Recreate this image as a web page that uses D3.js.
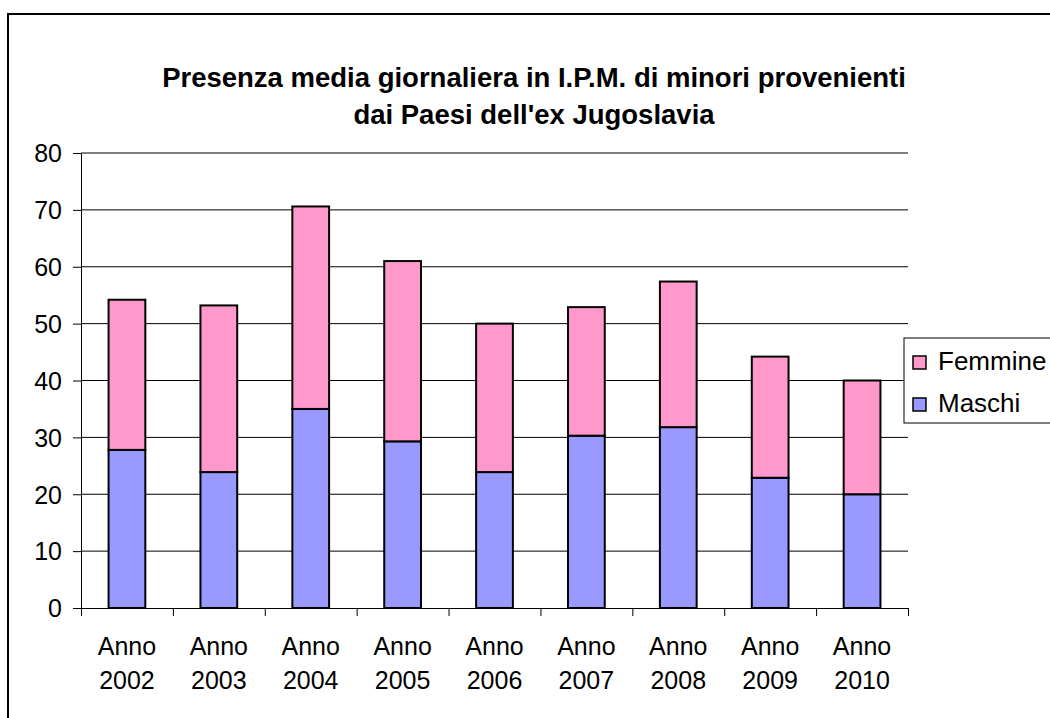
<!DOCTYPE html>
<html>
<head>
<meta charset="utf-8">
<script src="https://cdn.jsdelivr.net/npm/d3@7"></script>
<style>
  body { margin: 0; background: #fff; }
  text { font-family: "Liberation Sans", Arial, sans-serif; fill: #000; }
</style>
</head>
<body>
<script>
'use strict';

var years = ["2002", "2003", "2004", "2005", "2006", "2007", "2008", "2009", "2010"];
var maschi = [27.8, 23.9, 35.0, 29.3, 23.9, 30.3, 31.8, 22.9, 20.0];
var femmine = [26.4, 29.3, 35.6, 31.7, 26.1, 22.6, 25.6, 21.3, 20.0];
var yTicks = [0, 10, 20, 30, 40, 50, 60, 70, 80];
var titleLines = ["Presenza media giornaliera in I.P.M. di minori provenienti",
                  "dai Paesi dell'ex Jugoslavia"];
var seriesNames = ["Femmine", "Maschi"];

var _width = 1050;
var _height = 718;
var plot = {left: 81, right: 908, top: 153, bottom: 608};
var colors = {Maschi: "#9999ff", Femmine: "#ff99cc"};

var svg = d3.select(document.body).append("svg")
    .attr("width", _width)
    .attr("height", _height);

// chart border (runs off the right and bottom edges)
svg.append("rect")
    .attr("x", 8).attr("y", 14)
    .attr("width", 1100).attr("height", 800)
    .attr("fill", "none")
    .attr("stroke", "#000")
    .attr("stroke-width", 2);

// title
svg.append("g").selectAll("text")
    .data(titleLines)
  .enter().append("text")
    .attr("x", 534)
    .attr("y", function(d, i) { return 87 + i * 37; })
    .attr("text-anchor", "middle")
    .attr("font-size", "27.5px")
    .attr("font-weight", "bold")
    .text(function(d) { return d; });

var yScale = d3.scaleLinear().domain([0, 80]).range([plot.bottom, plot.top]);
var xBand = d3.scaleBand().domain(years)
    .range([plot.left, plot.right])
    .paddingInner(0.6).paddingOuter(0.3);
var xEdge = d3.scaleLinear().domain([0, years.length]).range([plot.left, plot.right]);

// gridlines
svg.append("g").selectAll("line")
    .data(yTicks.filter(function(t) { return t > 0; }))
  .enter().append("line")
    .attr("x1", plot.left).attr("x2", plot.right)
    .attr("y1", function(d) { return yScale(d); })
    .attr("y2", function(d) { return yScale(d); })
    .attr("stroke", "#000")
    .attr("stroke-width", 1);

// stacked bars
var rows = years.map(function(y, i) {
  return {year: y, Maschi: maschi[i], Femmine: femmine[i]};
});
var stacked = d3.stack().keys(["Maschi", "Femmine"])(rows);

svg.append("g").selectAll("g")
    .data(stacked)
  .enter().append("g")
    .attr("fill", function(s) { return colors[s.key]; })
  .selectAll("rect")
    .data(function(s) { return s; })
  .enter().append("rect")
    .attr("x", function(d) { return xBand(d.data.year); })
    .attr("width", xBand.bandwidth())
    .attr("y", function(d) { return yScale(d[1]); })
    .attr("height", function(d) { return yScale(d[0]) - yScale(d[1]); })
    .attr("stroke", "#000")
    .attr("stroke-width", 2);

// y axis
var yAxis = svg.append("g")
    .attr("transform", "translate(" + plot.left + ",0)")
    .call(d3.axisLeft(yScale).tickValues(yTicks).tickSizeInner(8).tickSizeOuter(0).tickPadding(11));
yAxis.selectAll("text").attr("font-size", "25px").attr("dy", "0.35em").style("font-family", null);
yAxis.select(".domain").attr("stroke", "#000");

// x axis: ticks between categories
var xAxis = svg.append("g")
    .attr("transform", "translate(0," + plot.bottom + ")")
    .call(d3.axisBottom(xEdge).tickValues(d3.range(years.length + 1))
          .tickFormat("").tickSizeInner(8).tickSizeOuter(0));
xAxis.selectAll("text").remove();

var labels = svg.append("g").selectAll("text")
    .data(years)
  .enter().append("text")
    .attr("x", function(d) { return xBand(d) + xBand.bandwidth() / 2; })
    .attr("y", 655)
    .attr("text-anchor", "middle")
    .attr("font-size", "25px");
labels.append("tspan").attr("x", function(d) { return xBand(d) + xBand.bandwidth() / 2; })
    .text("Anno");
labels.append("tspan").attr("x", function(d) { return xBand(d) + xBand.bandwidth() / 2; })
    .attr("dy", 34)
    .text(function(d) { return d; });

// legend
var legend = svg.append("g").attr("transform", "translate(904,338)");
legend.append("rect")
    .attr("width", 160).attr("height", 85)
    .attr("fill", "#fff").attr("stroke", "#000").attr("stroke-width", 1);
var items = legend.selectAll("g.item")
    .data(seriesNames)
  .enter().append("g")
    .attr("class", "item")
    .attr("transform", function(d, i) { return "translate(9," + (18 + i * 42) + ")"; });
items.append("rect")
    .attr("width", 13).attr("height", 13)
    .attr("fill", function(d) { return colors[d]; })
    .attr("stroke", "#000").attr("stroke-width", 1.5);
items.append("text")
    .attr("x", 25).attr("y", 14)
    .attr("font-size", "26px")
    .text(function(d) { return d; });
</script>
</body>
</html>
